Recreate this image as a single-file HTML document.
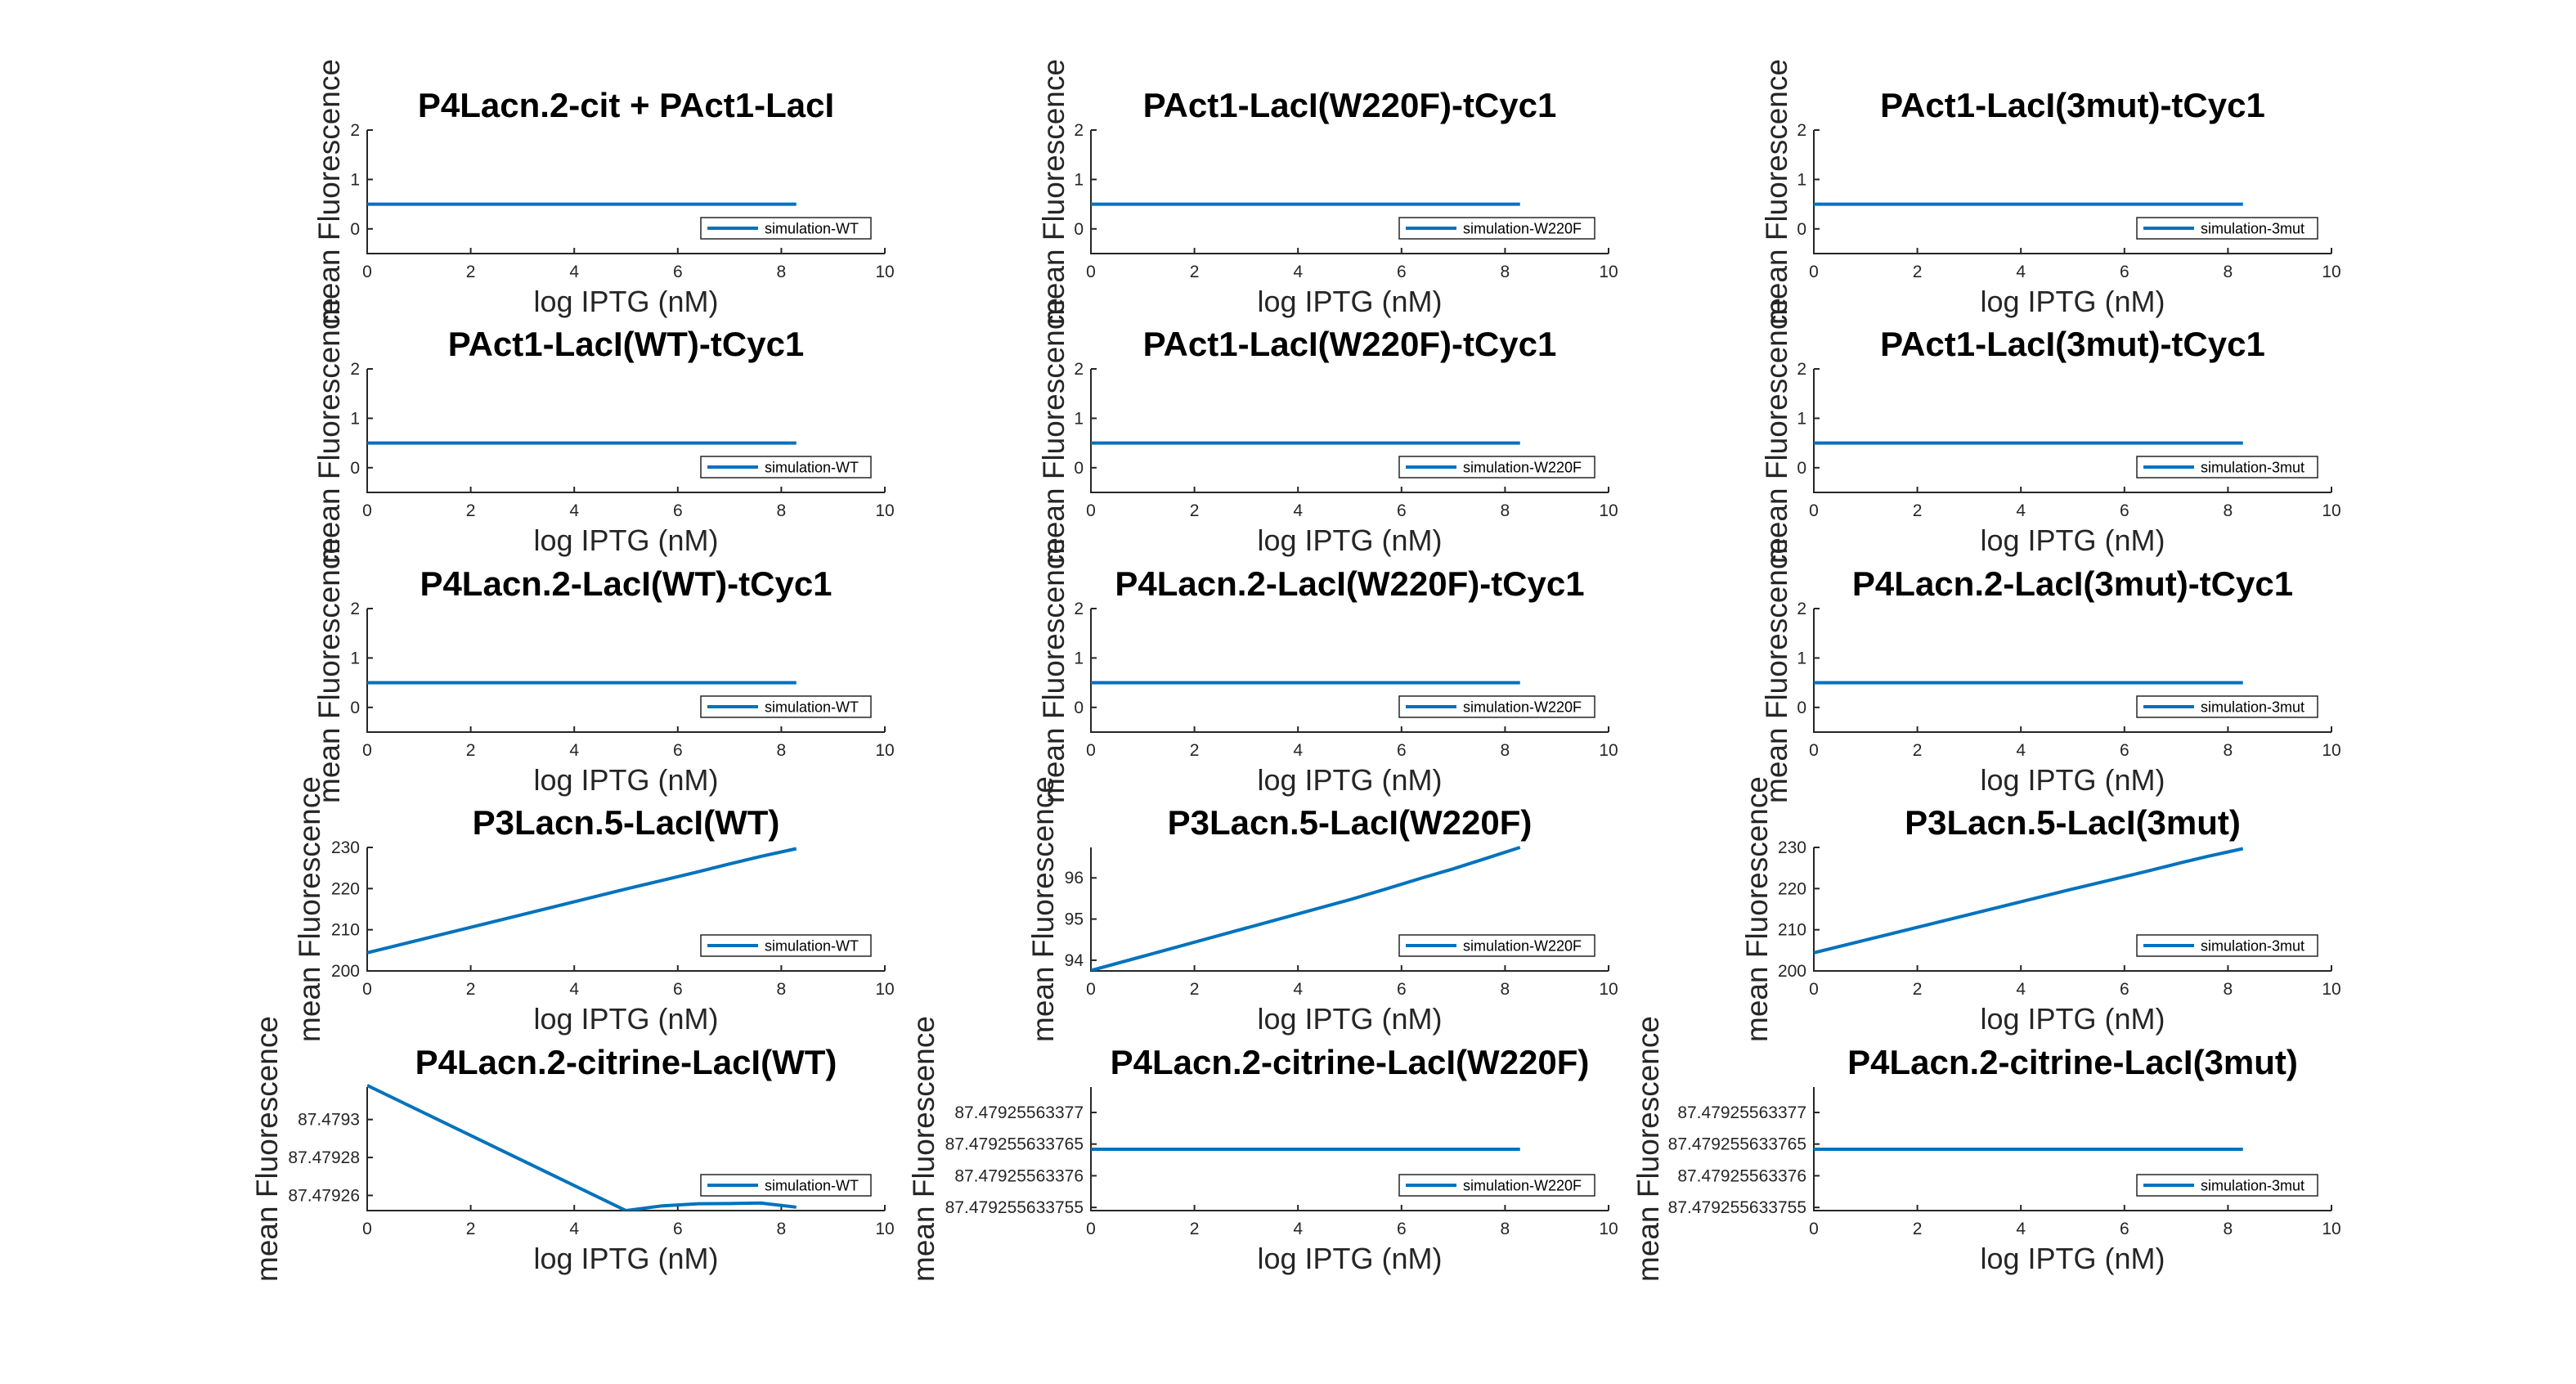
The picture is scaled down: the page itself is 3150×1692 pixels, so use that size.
<!DOCTYPE html>
<html><head><meta charset="utf-8"><style>
html,body{margin:0;padding:0;background:#fff;}
svg{display:block;font-family:"Liberation Sans",Arial,sans-serif;}
</style></head><body>
<svg id="fig" width="3150" height="1692" viewBox="0 0 3150 1692" xmlns="http://www.w3.org/2000/svg"></svg>
<script>
// ---- data ----
const xTicks = [0, 2, 4, 6, 8, 10];
const logIPTG = [0, 5, 5.7, 6.4, 7, 7.6, 8.29];
const flatSeries = [0.5, 0.5, 0.5, 0.5, 0.5, 0.5, 0.5];
const flatTicks = [0, 1, 2];
const p3WT = [204.4, 219.9, 222.0, 224.1, 226.0, 227.8, 229.7];
const p3WTTicks = [200, 210, 220, 230];
const p3W220F = [93.75, 95.47, 95.73, 96.0, 96.22, 96.46, 96.74];
const p3W220FTicks = [94, 95, 96];
const citWT = [87.479318, 87.479252, 87.4792545, 87.4792556, 87.4792557, 87.479256, 87.4792538];
const citWTTicks = [87.47926, 87.47928, 87.4793];
const citWTTickLabels = ["87.47926", "87.47928", "87.4793"];
const citFlat = [87.4792556337642, 87.4792556337642, 87.4792556337642, 87.4792556337642, 87.4792556337642, 87.4792556337642, 87.4792556337642];
const citFlatTicks = [87.479255633755, 87.47925563376, 87.479255633765, 87.47925563377];
const citFlatTickLabels = ["87.479255633755", "87.47925563376", "87.479255633765", "87.47925563377"];
const colNames = ["WT", "W220F", "3mut"];
const titles = [
 ["P4Lacn.2-cit + PAct1-LacI", "PAct1-LacI(W220F)-tCyc1", "PAct1-LacI(3mut)-tCyc1"],
 ["PAct1-LacI(WT)-tCyc1", "PAct1-LacI(W220F)-tCyc1", "PAct1-LacI(3mut)-tCyc1"],
 ["P4Lacn.2-LacI(WT)-tCyc1", "P4Lacn.2-LacI(W220F)-tCyc1", "P4Lacn.2-LacI(3mut)-tCyc1"],
 ["P3Lacn.5-LacI(WT)", "P3Lacn.5-LacI(W220F)", "P3Lacn.5-LacI(3mut)"],
 ["P4Lacn.2-citrine-LacI(WT)", "P4Lacn.2-citrine-LacI(W220F)", "P4Lacn.2-citrine-LacI(3mut)"]
];

// ---- layout ----
const NS = "http://www.w3.org/2000/svg";
const svg = document.getElementById("fig");
const colLeft = [449, 1334, 2218];
const axW = 633;
const rowTop = [159, 451, 744, 1036, 1329];
const axH = 151;
const ylabX = [[402,1288,2172],[402,1288,2172],[402,1288,2172],[378,1275,2148],[326,1129,2015]];

function mk(tag, attrs, parent) {
  const e = document.createElementNS(NS, tag);
  for (const k in attrs) e.setAttribute(k, attrs[k]);
  (parent || svg).appendChild(e);
  return e;
}

function panel(r, c, ys, ylim, yticks, ylabels) {
  const L = colLeft[c], T = rowTop[r], B = T + axH, R = L + axW;
  const g = mk("g", {});
  
  
  const sx = v => L + (v - 0) / 10 * axW;
  const sy = v => B - (v - ylim[0]) / (ylim[1] - ylim[0]) * axH;
  const ax = mk("path", {d: `M${L},${T}V${B}H${R}`, fill: "none", stroke: "#262626", "stroke-width": 2}, g);
  
  
  xTicks.forEach(t => {
    const x = sx(t);
    const tk = mk("line", {x1: x, x2: x, y1: B, y2: B - 7, stroke: "#262626", "stroke-width": 2}, g);
    
    
    const tl = mk("text", {x: x, y: B + 29, "text-anchor": "middle", "font-size": 21, fill: "#262626"}, g);
    tl.textContent = t;
    
    
  });
  yticks.forEach((t, i) => {
    const y = sy(t);
    const tk = mk("line", {x1: L, x2: L + 7, y1: y, y2: y, stroke: "#262626", "stroke-width": 2}, g);
    
    
    const tl = mk("text", {x: L - 9, y: y + 7, "text-anchor": "end", "font-size": 21, fill: "#262626"}, g);
    tl.textContent = ylabels ? ylabels[i] : t;
    
    
  });
  const cid = "clip" + r + c;
  const cp = mk("clipPath", {id: cid}, g);
  mk("rect", {x: L, y: T - 6, width: axW, height: axH + 6}, cp);
  const pts = logIPTG.map((x, i) => sx(x).toFixed(2) + "," + sy(ys[i]).toFixed(2)).join(" ");
  const line = mk("polyline", {points: pts, fill: "none", stroke: "#0072BD", "stroke-width": 4, "stroke-linejoin": "round", "clip-path": `url(#${cid})`}, g);
  
  
  const ti = mk("text", {x: (L + R) / 2, y: T - 16, "text-anchor": "middle", "font-size": 42, "font-weight": "bold", fill: "#000"}, g);
  ti.textContent = titles[r][c];
  
  
  const xl = mk("text", {x: (L + R) / 2, y: B + 71, "text-anchor": "middle", "font-size": 36, fill: "#262626"}, g);
  xl.textContent = "log IPTG (nM)";
  
  
  const yx = ylabX[r][c] + 13, yc = (T + B) / 2;
  const yl = mk("text", {x: yx, y: yc, "text-anchor": "middle", "font-size": 37, fill: "#262626", transform: `rotate(-90 ${yx} ${yc})`}, g);
  yl.textContent = "mean Fluorescence";
  
  
  const lab = "simulation-" + colNames[c];
  const lw = [208, 239, 221][c];
  const lh = 26;
  const lx = R - 17 - lw, ly = B - 18 - lh;
  const lg = mk("g", {}, g);
  
  
  mk("rect", {x: lx, y: ly, width: lw, height: lh, fill: "#fff", stroke: "#262626", "stroke-width": 1.5}, lg);
  mk("line", {x1: lx + 8, x2: lx + 70, y1: ly + lh/2, y2: ly + lh/2, stroke: "#0072BD", "stroke-width": 4}, lg);
  const lt = mk("text", {x: lx + 78, y: ly + lh/2 + 6.5, "font-size": 18, fill: "#000"}, lg);
  lt.textContent = lab;
  
  
}

for (let r = 0; r < 3; r++) for (let c = 0; c < 3; c++) panel(r, c, flatSeries, [-0.5, 2], flatTicks);
panel(3, 0, p3WT, [200, 230], p3WTTicks);
panel(3, 1, p3W220F, [93.74, 96.74], p3W220FTicks);
panel(3, 2, p3WT, [200, 230], p3WTTicks);
panel(4, 0, citWT, [87.479252, 87.4793171], citWTTicks, citWTTickLabels);
panel(4, 1, citFlat, [87.4792556337545, 87.479255633774], citFlatTicks, citFlatTickLabels);
panel(4, 2, citFlat, [87.4792556337545, 87.479255633774], citFlatTicks, citFlatTickLabels);
</script>
</body></html>
